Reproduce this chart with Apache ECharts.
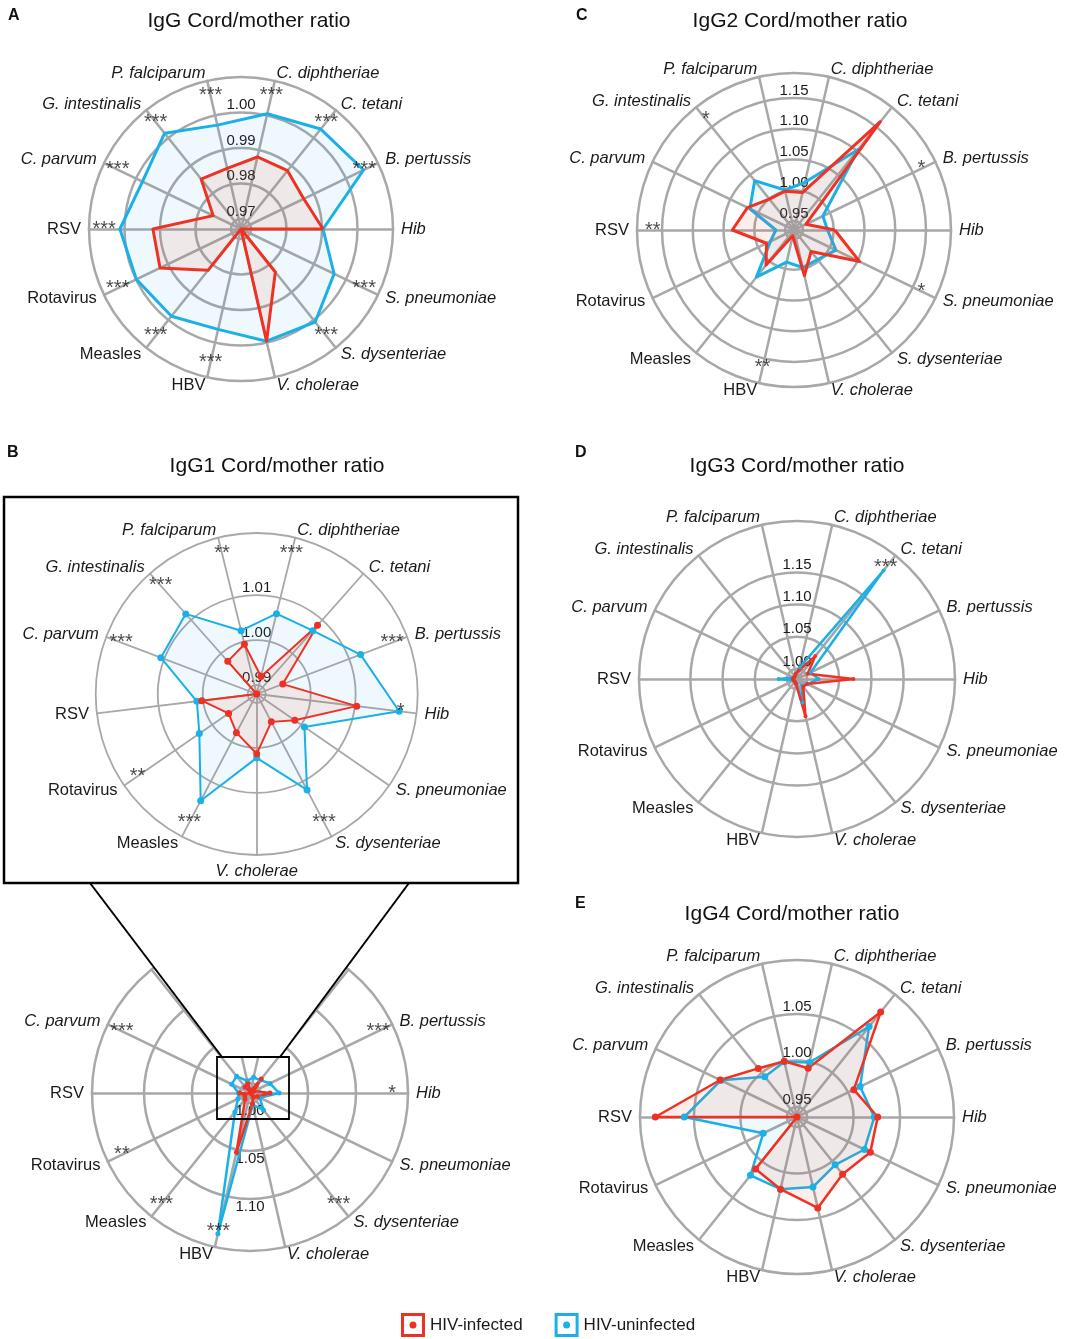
<!DOCTYPE html>
<html>
<head>
<meta charset="utf-8">
<title>Cord/mother ratio radar charts</title>
<script src="https://cdn.jsdelivr.net/npm/echarts@6/dist/echarts.min.js"></script>
<style>
html,body{margin:0;padding:0;background:#ffffff;}
#chart{width:1067px;height:1339px;}
</style>
</head>
<body>
<div id="chart"></div>
<script>
// ===================== DATA =====================
// axes listed counter-clockwise starting from the right-hand (Hib) spoke
const categories = ['Hib','B. pertussis','C. tetani','C. diphtheriae','P. falciparum','G. intestinalis','C. parvum','RSV','Rotavirus','Measles','HBV','V. cholerae','S. dysenteriae','S. pneumoniae'];
const italicNames = ['Hib','B. pertussis','C. tetani','C. diphtheriae','P. falciparum','G. intestinalis','C. parvum','V. cholerae','S. dysenteriae','S. pneumoniae'];
const seriesNames = ['HIV-infected','HIV-uninfected'];

// A: IgG
const igG_title = 'IgG Cord/mother ratio';
const igG_infected   = [0.9903,0.9868,0.9882,0.9880,0.9847,0.9852,0.9759,0.9920,0.9925,0.9821,0.9672,0.9996,0.9827,0.9672];
const igG_uninfected = [0.9903,1.0055,1.0032,1.0005,0.9972,1.0017,0.9980,1.0013,0.9999,0.9986,0.9962,0.9996,1.0007,0.9963];
const igG_stars = ['','***','***','***','***','***','***','***','***','***','***','','***','***'];
const igG_ticks = [0.97,0.98,0.99,1.00];
const igG_range = [0.9672,1.0100];

// B: IgG1 (inset excludes HBV)
const igG1_title = 'IgG1 Cord/mother ratio';
const igG1_infected   = [1.0104,0.9942,1.0084,0.9920,0.9994,0.9977,0.9880,1.0003,0.9956,0.9977,1.0530,1.0013,0.9950,0.9983];
const igG1_uninfected = [1.0199,1.0127,1.0068,1.0064,1.0025,1.0118,1.0108,1.0014,1.0035,1.0148,1.1400,1.0022,1.0121,1.0009];
const igG1_stars = ['*','***','','***','**','***','***','','**','***','***','','***',''];
const igG1_zoomExclude = ['HBV'];
const igG1_zoomTicks = [0.99,1.00,1.01];
const igG1_zoomRange = [0.9880,1.0238];
const igG1_fullTicks = [1.00,1.05,1.10];
const igG1_fullRange = [0.9896,1.1542];
const igG1_fullHidden = ['P. falciparum','C. diphtheriae','C. tetani','G. intestinalis'];

// C: IgG2
const igG2_title = 'IgG2 Cord/mother ratio';
const igG2_infected   = [1.0016,0.9570,1.1606,0.9978,1.0001,0.9997,1.0194,1.0357,0.9850,1.0084,0.9450,1.0116,0.9800,1.0538];
const igG2_uninfected = [0.9900,0.9875,1.1029,1.0149,1.0021,1.0380,1.0151,0.9650,0.9780,1.0335,0.9890,0.9980,0.9970,1.0110];
const igG2_stars = ['','*','','','','*','','**','','','**','','','*'];
const igG2_ticks = [0.95,1.00,1.05,1.10,1.15];
const igG2_range = [0.9354,1.1907];

// D: IgG3
const igG3_title = 'IgG3 Cord/mother ratio';
const igG3_infected   = [1.0720,1.0030,1.0300,0.9980,0.9930,0.9900,0.9900,0.9910,0.9900,0.9900,0.9920,1.0440,1.0000,1.0020];
const igG3_uninfected = [1.0180,1.0080,1.2000,1.0030,0.9930,0.9900,0.9900,1.0130,0.9900,0.9900,0.9920,1.0220,0.9970,1.0030];
const igG3_stars = ['','','***','','','','','','','','','','',''];
const igG3_ticks = [1.00,1.05,1.10,1.15];
const igG3_range = [0.9845,1.2298];

// E: IgG4
const igG4_title = 'IgG4 Cord/mother ratio';
const igG4_infected   = [1.0260,1.0070,1.0835,0.9930,1.0007,1.0060,1.0309,1.0915,0.9392,1.0106,1.0188,1.0395,1.0178,1.0267];
const igG4_uninfected = [1.0223,1.0145,1.0635,0.9993,1.0000,0.9947,1.0300,1.0604,0.9796,1.0194,1.0188,1.0164,1.0050,1.0197];
const igG4_stars = ['','','','','','','','','','','','','',''];
const igG4_ticks = [0.95,1.00,1.05];
const igG4_range = [0.9392,1.1080];

// ===================== STYLE / LAYOUT =====================
const FONT = "'Liberation Sans', Arial, Helvetica, sans-serif";
const RED = '#ee3124', BLUE = '#1bb1e7', GRID = '#a8a8a8', INK = '#1a1a1a';
const RED_FILL = 'rgba(240,80,50,0.14)', BLUE_FILL = 'rgba(30,170,230,0.10)';

const notIn = (list) => (_, k) => !list.includes(categories[k]);
const zoomCats = categories.filter(c => !igG1_zoomExclude.includes(c));

const panels = [
  {cats: categories, inf: igG_infected, uninf: igG_uninfected, stars: igG_stars, ticks: igG_ticks, range: igG_range,
   splitNumber: 4, center: [241,229], radius: 152, labelSide: 'up', symbolSize: 0, lineWidth: 3, gridWidth: 2.5, hidden: []},
  {cats: categories, inf: igG2_infected, uninf: igG2_uninfected, stars: igG2_stars, ticks: igG2_ticks, range: igG2_range,
   splitNumber: 5, center: [794,230], radius: 157, labelSide: 'up', symbolSize: 0, lineWidth: 3, gridWidth: 2.5, hidden: []},
  {cats: zoomCats, inf: igG1_infected.filter(notIn(igG1_zoomExclude)), uninf: igG1_uninfected.filter(notIn(igG1_zoomExclude)),
   stars: igG1_stars.filter(notIn(igG1_zoomExclude)), ticks: igG1_zoomTicks, range: igG1_zoomRange,
   splitNumber: 3, center: [256.7,694], radius: 161, labelSide: 'up', downAxis: 'V. cholerae', symbolSize: 7, lineWidth: 2, gridWidth: 1.8, hidden: []},
  {cats: categories, inf: igG1_infected, uninf: igG1_uninfected,
   stars: igG1_stars.map((s,k) => igG1_fullHidden.includes(categories[k]) ? '' : s), ticks: igG1_fullTicks, range: igG1_fullRange,
   splitNumber: 2, center: [250,1093], radius: 158, labelSide: 'down', symbolSize: 5, lineWidth: 2.5, gridWidth: 2.5, hidden: igG1_fullHidden},
  {cats: categories, inf: igG3_infected, uninf: igG3_uninfected, stars: igG3_stars, ticks: igG3_ticks, range: igG3_range,
   splitNumber: 4, center: [797,679], radius: 158, labelSide: 'up', symbolSize: 4, lineWidth: 2.5, gridWidth: 2.5, hidden: []},
  {cats: categories, inf: igG4_infected, uninf: igG4_uninfected, stars: igG4_stars, ticks: igG4_ticks, range: igG4_range,
   splitNumber: 2, center: [797,1117], radius: 157, labelSide: 'up', symbolSize: 7, lineWidth: 2.5, gridWidth: 2.5, hidden: []}
];

const titles = [
  {text: igG_title, x: 249, y: 11}, {text: igG2_title, x: 800, y: 11},
  {text: igG1_title, x: 277, y: 456}, {text: igG3_title, x: 797, y: 456},
  {text: igG4_title, x: 792, y: 904}
];
const letters = [
  {text: 'A', x: 8, y: 8}, {text: 'B', x: 7, y: 445}, {text: 'C', x: 576, y: 8},
  {text: 'D', x: 575, y: 445}, {text: 'E', x: 575, y: 896}
];

// ===================== BUILD =====================
const option = {
  animation: false,
  backgroundColor: '#ffffff',
  textStyle: {fontFamily: FONT},
  radar: [], polar: [], angleAxis: [], radiusAxis: [], series: [], graphic: []
};

panels.forEach((p, i) => {
  const n = p.cats.length;
  const step = 360 / n;
  const [vMin, vMax] = p.range;
  const pMax = p.ticks[p.ticks.length - 1] + 1e-6;
  const polarRadius = p.radius * (pMax - vMin) / (vMax - vMin);
  const radarStart = p.downAxis ? (-90 - p.cats.indexOf(p.downAxis) * step) : 0;
  const polarStart = p.labelSide === 'down' ? -90 : 90;
  const offset = (radarStart - polarStart) / step;

  option.radar.push({
    center: p.center, radius: p.radius, startAngle: radarStart, shape: 'circle', splitNumber: 1,
    indicator: p.cats.map(c => ({name: c, min: vMin, max: vMax})),
    axisNameGap: 8,
    axisName: {
      show: true, color: INK, fontSize: 16.5, fontFamily: FONT,
      formatter: (name) => p.hidden.includes(name) ? '' : (italicNames.includes(name) ? '{i|' + name + '}' : '{n|' + name + '}'),
      rich: {
        i: {fontStyle: 'italic', fontSize: 16.5, color: INK, fontFamily: FONT},
        n: {fontSize: 16.5, color: INK, fontFamily: FONT}
      }
    },
    axisLine: {show: true, lineStyle: {color: GRID, width: p.gridWidth}},
    splitLine: {show: true, lineStyle: {color: GRID, width: p.gridWidth}},
    splitArea: {show: false},
    axisTick: {show: false}, axisLabel: {show: false}
  });

  option.polar.push({center: p.center, radius: polarRadius});
  option.angleAxis.push({polarIndex: i, type: 'value', min: 0, max: n, startAngle: polarStart, clockwise: false, show: false});
  option.radiusAxis.push({
    polarIndex: i, type: 'value', min: vMin, max: pMax, splitNumber: p.splitNumber,
    axisLine: {show: false}, axisTick: {show: false},
    splitLine: {show: true, lineStyle: {color: GRID, width: p.gridWidth}},
    axisLabel: {
      show: true, margin: 0, align: 'center', verticalAlign: p.labelSide === 'down' ? 'top' : 'bottom',
      fontSize: 15, color: INK, fontFamily: FONT,
      formatter: (v) => p.ticks.some(t => Math.abs(t - v) < 1e-8) ? v.toFixed(2) : ''
    },
    z: 1
  });

  const sym = p.symbolSize > 0 ? 'circle' : 'none';
  option.series.push({
    type: 'radar', radarIndex: i, z: 3,
    data: [
      {name: seriesNames[1], value: p.uninf, symbol: sym, symbolSize: p.symbolSize,
       itemStyle: {color: BLUE}, lineStyle: {color: BLUE, width: p.lineWidth}, areaStyle: {color: BLUE_FILL}},
      {name: seriesNames[0], value: p.inf, symbol: sym, symbolSize: p.symbolSize,
       itemStyle: {color: RED}, lineStyle: {color: RED, width: p.lineWidth}, areaStyle: {color: RED_FILL}}
    ]
  });

  const starR = vMin + 0.9 * (vMax - vMin);
  const starData = p.cats.map((c, k) => p.stars[k] ? {name: p.stars[k], value: [starR, (((k + offset) % n) + n) % n]} : null).filter(Boolean);
  option.series.push({
    type: 'scatter', coordinateSystem: 'polar', polarIndex: i, clip: false, z: 4, silent: true,
    symbol: 'circle', symbolSize: 1, itemStyle: {color: 'rgba(0,0,0,0)'},
    label: {show: true, position: 'inside', formatter: '{b}', fontSize: 20, color: INK, fontFamily: FONT},
    data: starData
  });
});

// titles and panel letters
titles.forEach(t => option.graphic.push({
  type: 'text', x: t.x, y: t.y, z: 100, silent: true,
  style: {text: t.text, fill: '#111', fontSize: 21, fontFamily: FONT, textAlign: 'center', textVerticalAlign: 'top', align: 'center', verticalAlign: 'top'}
}));
letters.forEach(t => option.graphic.push({
  type: 'text', x: t.x, y: t.y, z: 100, silent: true,
  style: {text: t.text, fill: '#111', fontSize: 16, fontWeight: 'bold', fontFamily: FONT, textAlign: 'left', textVerticalAlign: 'top', align: 'left', verticalAlign: 'top'}
}));

// inset (zoom) decoration for panel B
const insetBox = {x: 4, y: 497, w: 514, h: 386};
const zoomBox = {x: 217, y: 1057, w: 72, h: 62};
const connL = [[90, 883], [222, 1057]];
const connR = [[409, 883], [280, 1057]];
option.graphic.push(
  {type: 'polygon', z: 90, silent: true, shape: {points: [connL[0], connR[0], connR[1], connL[1]]}, style: {fill: '#ffffff'}},
  {type: 'polyline', z: 95, silent: true, shape: {points: connL}, style: {stroke: '#000', lineWidth: 2, fill: null}},
  {type: 'polyline', z: 95, silent: true, shape: {points: connR}, style: {stroke: '#000', lineWidth: 2, fill: null}},
  {type: 'rect', z: 95, silent: true, shape: {x: insetBox.x, y: insetBox.y, width: insetBox.w, height: insetBox.h}, style: {fill: null, stroke: '#000', lineWidth: 2.5}},
  {type: 'rect', z: 95, silent: true, shape: {x: zoomBox.x, y: zoomBox.y, width: zoomBox.w, height: zoomBox.h}, style: {fill: null, stroke: '#000', lineWidth: 1.8}}
);

const ICON = 'path://M0,0H24V24H0Z M3,3V21H21V3Z M8.5,12A3.5,3.5,0,1,0,15.5,12A3.5,3.5,0,1,0,8.5,12Z';
option.legend = {
  data: seriesNames.map(s => ({name: s, icon: ICON})),
  left: 396, top: 1308, itemWidth: 24, itemHeight: 24, itemGap: 32, selectedMode: false,
  textStyle: {fontSize: 17, color: INK, fontFamily: FONT}
};

const chart = echarts.init(document.getElementById('chart'), null, {renderer: 'canvas'});
chart.setOption(option);
</script>
</body>
</html>
